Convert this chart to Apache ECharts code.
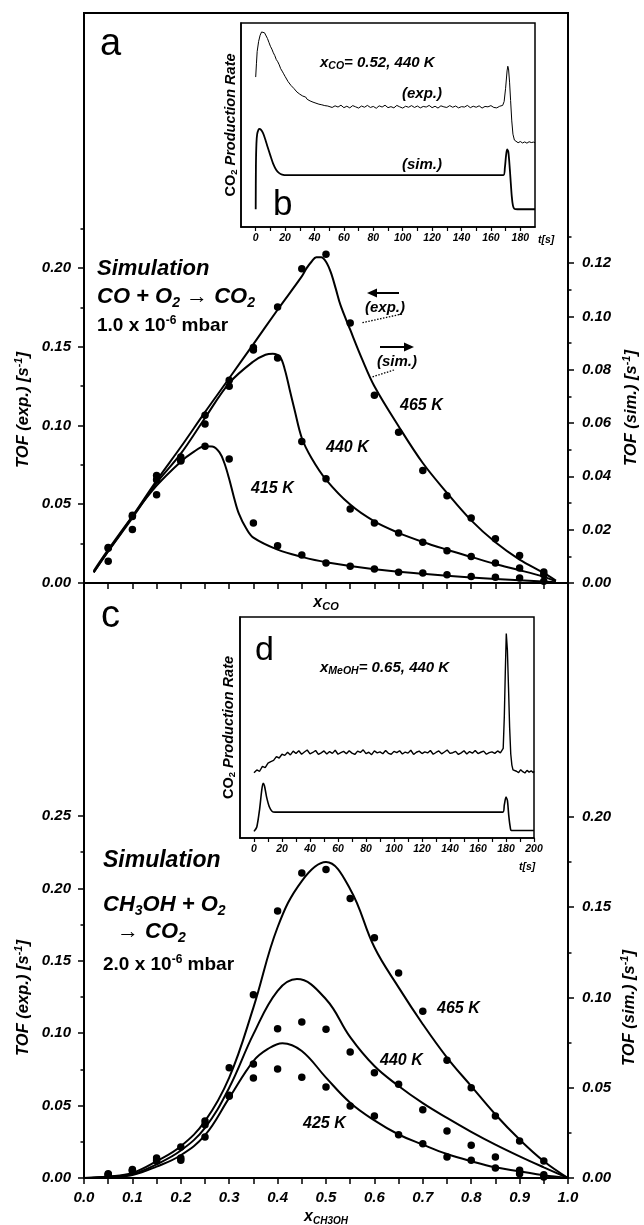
<!DOCTYPE html>
<html><head><meta charset="utf-8">
<script src="https://cdn.jsdelivr.net/npm/echarts@6/dist/echarts.min.js"></script>
<style>html,body{margin:0;padding:0;background:#fff}#c{width:644px;height:1225px}</style>
</head><body><div id="c"></div>
<script>
// ---------- Panel a : CO + O2 (dots = exp., left axis; curves = sim., right axis)
const aX = [0.05,0.10,0.15,0.20,0.25,0.30,0.35,0.40,0.45,0.50,0.55,0.60,0.65,0.70,0.75,0.80,0.85,0.90,0.95];
const a465Exp = [0.0226,0.043,0.0683,0.080,0.1065,0.1287,0.1496,0.1752,0.1996,0.2087,0.1651,0.1192,0.0957,0.0715,0.0554,0.0413,0.0281,0.0174,0.007];
const a440Exp = [0.022,0.0423,0.0656,0.0779,0.101,0.1249,0.148,0.1429,0.0899,0.0662,0.047,0.0381,0.0317,0.0258,0.0205,0.0169,0.0127,0.0095,0.0053];
const a415Exp = [0.0138,0.0339,0.0561,0.0775,0.0868,0.0787,0.0381,0.0237,0.0178,0.0127,0.0106,0.0089,0.0068,0.0063,0.0053,0.0042,0.0036,0.0032,0.0011];
const a465SimX = [0.02,0.05,0.1,0.15,0.2,0.25,0.3,0.35,0.4,0.45,0.46,0.47,0.48,0.49,0.5,0.51,0.52,0.53,0.55,0.575,0.6,0.65,0.7,0.75,0.8,0.85,0.9,0.95,0.975];
const a465SimY = [0.0040,0.0119,0.025,0.0384,0.051,0.0641,0.0768,0.0896,0.1025,0.115,0.1181,0.1205,0.1222,0.1222,0.1205,0.1165,0.1105,0.1042,0.095,0.0838,0.0738,0.0588,0.045,0.0338,0.0235,0.0153,0.0088,0.0038,0.0009];
const a440SimX = [0.02,0.05,0.1,0.15,0.2,0.25,0.3,0.35,0.375,0.39,0.405,0.415,0.425,0.435,0.45,0.47,0.5,0.55,0.6,0.65,0.7,0.75,0.8,0.85,0.9,0.95,0.975];
const a440SimY = [0.0040,0.0119,0.0244,0.0375,0.0485,0.0619,0.075,0.0831,0.0856,0.086,0.0848,0.08,0.0725,0.065,0.0544,0.0469,0.0388,0.0294,0.0231,0.0188,0.0154,0.0125,0.0098,0.0071,0.0048,0.0023,0.0006];
const a415SimX = [0.02,0.05,0.1,0.15,0.2,0.225,0.25,0.265,0.28,0.29,0.3,0.31,0.32,0.335,0.35,0.4,0.45,0.5,0.6,0.7,0.8,0.9,0.975];
const a415SimY = [0.0045,0.0125,0.025,0.0365,0.0455,0.049,0.0513,0.0512,0.049,0.045,0.039,0.032,0.026,0.0205,0.017,0.0125,0.0098,0.0078,0.0052,0.0035,0.0021,0.001,0.0003];

// ---------- Panel c : CH3OH + O2
const cX = [0.05,0.10,0.15,0.20,0.25,0.30,0.35,0.40,0.45,0.50,0.55,0.60,0.65,0.70,0.75,0.80,0.85,0.90,0.95];
const c465Exp = [0.003,0.0058,0.0138,0.0214,0.0394,0.0762,0.1266,0.1844,0.2106,0.213,0.193,0.166,0.1416,0.1151,0.0813,0.0624,0.0428,0.0256,0.0117];
const c440Exp = [0.0025,0.0052,0.0125,0.0138,0.0368,0.0571,0.0787,0.1031,0.1077,0.1027,0.087,0.0727,0.0647,0.0472,0.0325,0.0226,0.0145,0.0053,0.0023];
const c425Exp = [0.002,0.0048,0.0117,0.0122,0.0283,0.0564,0.0691,0.0753,0.0695,0.0628,0.0497,0.0428,0.0299,0.0237,0.0145,0.0122,0.0069,0.003,0.0007];
const c465SimX = [0,0.05,0.1,0.15,0.2,0.25,0.3,0.35,0.4,0.45,0.5,0.55,0.6,0.65,0.7,0.75,0.8,0.85,0.9,0.95,1.0];
const c465SimY = [0,0.0008,0.0028,0.0093,0.0176,0.0315,0.0556,0.0944,0.1389,0.1645,0.175,0.16,0.1278,0.1056,0.0852,0.0667,0.0509,0.0352,0.0213,0.0093,0];
const c440SimX = [0,0.05,0.1,0.15,0.2,0.25,0.3,0.35,0.4,0.44,0.5,0.55,0.6,0.65,0.7,0.75,0.8,0.85,0.9,0.95,1.0];
const c440SimY = [0,0.0006,0.0022,0.0076,0.0152,0.0278,0.05,0.0797,0.1037,0.1102,0.099,0.078,0.062,0.051,0.0415,0.0333,0.0256,0.0185,0.012,0.0059,0];
const c425SimX = [0,0.05,0.1,0.15,0.2,0.25,0.3,0.35,0.38,0.41,0.45,0.5,0.55,0.6,0.65,0.7,0.75,0.8,0.85,0.9,0.95,1.0];
const c425SimY = [0,0.0005,0.0017,0.0063,0.0126,0.0237,0.0444,0.0648,0.0715,0.0747,0.0704,0.0556,0.0417,0.0319,0.0241,0.0185,0.0133,0.0093,0.0059,0.0037,0.0015,0];

// ---------- Inset b : transient, x_CO = 0.52, 440 K  ([t(s), rate a.u.])
const bExp = [[0,73.5],[0.5,80],[1,86],[2,91],[3,94],[4,95.6],[5,96],[6,95.2],[7,94.4],[8,92.4],[9,90.5],[10,88.6],[11,87.2],[12,85.4],[13,84],[14,82.1],[15,81],[16,79.5],[17,77.6],[18,76.4],[19,75.1],[20,73.8],[21,72.9],[22,71.3],[23,70.6],[24,69.4],[25,69.1],[26,67.9],[27,67.6],[28,66.2],[29,66.4],[30,65.1],[31,64.9],[32,64.2],[33,63.4],[34,63.7],[35,62.6],[36,62.9],[37,61.8],[38,62.2],[39,61.2],[40,61.6],[41,60.7],[42,61.1],[43,60.2],[44,60.8],[45,59.9],[46,60.4],[47,59.5],[48,60.1],[49,59.3],[50,59.8],
[52,58.6],[54,59.4],[56,58.8],[58,59.7],[60,58.5],[62,59.2],[64,58.4],[66,59.5],[68,58.9],[70,58.3],
[72,59.3],[74,58.7],[76,59.6],[78,58.6],[80,59.1],[82,58.2],[84,59.4],[86,58.8],[88,59.7],[90,58.5],
[92,59.0],[94,58.4],[96,59.6],[98,58.9],[100,58.3],[102,59.2],[104,58.7],[106,59.5],[108,58.6],[110,59.3],
[112,58.4],[114,59.1],[116,58.8],[118,59.6],[120,58.5],[122,59.2],[124,58.3],[126,59.4],[128,58.9],[130,58.6],
[132,59.5],[134,58.7],[136,59.3],[138,58.4],[140,59.0],[142,58.8],[144,59.6],[146,58.5],[148,59.2],[150,58.7],
[152,59.4],[154,58.3],[156,59.1],[158,58.9],[160,59.5],[162,58.6],[164,58.4],[166,59.2],
[167,59.0],[168,59.6],[169,61.5],[170,68],[171,76.5],[171.5,78.8],[172,77.5],[172.7,71],[173.4,62],[174.2,52],[175,45.5],[176,42.6],[177,41.8],[178.5,41.3],[180,41.9],[181.5,41.2],[183,41.7],[184.5,41.1],[186,41.8],[187.5,41.4],[189,41.6],[190,41.3]];
const bSim = [[0,8.7],[0.15,30],[0.5,41],[1,45.5],[2,47.8],[2.6,48.1],[3.5,47.7],[5,46],[6.5,43],[8,39.5],[10,35],[12,30.8],[14,27.9],[16,26.4],[18,25.7],[21,25.4],[168.5,25.4],[169.5,29],[170.3,35],[171,38],[171.8,37],[172.5,32],[173.3,24],[174.2,15],[175,10.5],[176,8.9],[178,8.7],[190,8.7]];

// ---------- Inset d : transient, x_MeOH = 0.65, 440 K
const dExp = [[0,29.5],[2,30.8],[4,30.2],[6,32.4],[8,31.8],[10,33.9],[12,34.6],[14,35.1],[16,36.8],[18,36.2],[20,37.9],[22,37.4],[24,38.8],[26,37.6],[28,39.3],
[30,38.2],[32,39.5],[34,37.9],[36,38.9],[38,39.8],[40,38.1],[42,38.7],[44,39.6],[46,37.8],[48,38.5],
[50,39.4],[52,38.0],[54,39.1],[56,38.3],[58,39.7],[60,37.9],[62,38.6],[64,39.2],[66,38.1],[68,39.5],
[70,38.4],[72,37.8],[74,39.3],[76,38.7],[78,39.9],[80,38.2],[82,38.8],[84,37.7],[86,39.4],[88,38.5],
[90,39.0],[92,38.1],[94,39.6],[96,38.3],[98,37.9],[100,39.2],[102,38.6],[104,39.5],[106,38.0],[108,38.9],
[110,38.4],[112,39.7],[114,37.8],[116,38.8],[118,39.3],[120,38.2],[122,39.0],[124,38.5],[126,39.6],[128,37.9],
[130,38.7],[132,39.4],[134,38.1],[136,38.9],[138,39.8],[140,38.3],[142,38.6],[144,39.2],[146,37.8],[148,38.5],
[150,39.5],[152,38.0],[154,39.1],[156,38.4],[158,39.6],[160,38.2],[162,38.8],[164,39.3],[166,37.9],[168,38.6],
[170,39.0],[172,38.3],[174,39.4],[176,38.5],
[177,38.9],[178,40.5],[178.8,55],[179.5,75],[180.2,92.5],[181,85],[181.8,68],[182.6,50],[183.4,38],[184.2,33],[185,30.8],[186,31.5],[187.5,30.2],[189,29.6],[190.5,30.9],[192,30.0],[193.5,29.4],[195,30.6],[196.5,29.8],[198,30.4],[199.5,29.5],[200,30.2]];
const dSim = [[0,3],[2,5],[4,13],[5.5,21.5],[6.5,24.8],[7.5,23.5],[9,18.5],[11,14],[13,12],[15,11.7],[177.8,11.7],[178.8,15],[180,18.5],[181,17],[182,10],[183,5],[183.8,3.4],[200,3.4]];

// ---------- tick / label values
const aLeftMajor = [0,0.05,0.10,0.15,0.20];
const aLeftMinor = [0.025,0.075,0.125,0.175,0.225];
const aRightMajor = [0,0.02,0.04,0.06,0.08,0.10,0.12];
const aRightMinor = [0.01,0.03,0.05,0.07,0.09,0.11,0.13];
const cLeftMajor = [0,0.05,0.10,0.15,0.20,0.25];
const cLeftMinor = [0.025,0.075,0.125,0.175,0.225];
const cRightMajor = [0,0.05,0.10,0.15,0.20];
const cRightMinor = [0.025,0.075,0.125,0.175];
const bTicks = [0,10,20,30,40,50,60,70,80,90,100,110,120,130,140,150,160,170,180];
const bLabels = [0,20,40,60,80,100,120,140,160,180];
const dTicks = [0,10,20,30,40,50,60,70,80,90,100,110,120,130,140,150,160,170,180,190,200];
const dLabels = [0,20,40,60,80,100,120,140,160,180,200];

// ---------- helpers
const FF = '"Liberation Sans", Arial, Helvetica, sans-serif';
const zip = (xs, ys) => xs.map((x, i) => [x, ys[i]]);
function ec(size, o) { return Object.assign({fontFamily: FF, fontSize: size, fontWeight: 'bold', fontStyle: 'italic', color: '#000'}, o || {}); }
function zr(size, o) { return Object.assign({fontFamily: FF, fontSize: size, fontWeight: 'bold', fontStyle: 'italic', fill: '#000'}, o || {}); }
const BLK = '#000';
const lblStyle = ec(15);

function yMain(grid, pos, max, majors) {
  return {gridIndex: grid, type: 'value', position: pos, min: 0, max: max,
    axisLine: {show: true, onZero: false, lineStyle: {color: BLK, width: 2}},
    axisTick: {show: true, length: 6, customValues: majors, lineStyle: {color: BLK, width: 1.5}},
    axisLabel: Object.assign({show: true, customValues: majors, margin: pos === 'left' ? 13 : 14, formatter: v => v.toFixed(2)}, lblStyle),
    splitLine: {show: false}
  };
}
function yMinor(grid, pos, max, minors) {
  return {gridIndex: grid, type: 'value', position: pos, min: 0, max: max,
    axisLine: {show: false, onZero: false}, axisLabel: {show: false}, splitLine: {show: false},
    axisTick: {show: true, length: 3.5, customValues: minors, lineStyle: {color: BLK, width: 1.5}}};
}
function yInset(grid, gap) {
  return {gridIndex: grid, type: 'value', min: 0, max: 100,
    axisLine: {show: true, onZero: false, lineStyle: {color: BLK, width: 1.5}}, axisTick: {show: false}, axisLabel: {show: false}, splitLine: {show: false},
    name: '{c|CO}{s|2}{t| Production Rate}', nameLocation: 'middle', nameGap: gap,
    nameTextStyle: {rich: {c: ec(14.5, {fontStyle: 'normal', lineHeight: 17}), s: ec(9.5, {fontStyle: 'normal', verticalAlign: 'bottom', lineHeight: 10}), t: ec(14.5, {lineHeight: 17})}}};
}
function xInset(grid, max, ticks, labels) {
  return {gridIndex: grid, type: 'value', min: -10, max: max,
    axisLine: {show: true, onZero: false, lineStyle: {color: BLK, width: 1.5}},
    axisTick: {show: true, length: 4, customValues: ticks, lineStyle: {color: BLK, width: 1.2}},
    axisLabel: Object.assign({show: true, customValues: labels, margin: 6}, ec(10.5)),
    splitLine: {show: false}};
}
function dots(xi, yi, xs, ys) {
  return {type: 'scatter', xAxisIndex: xi, yAxisIndex: yi, data: zip(xs, ys), symbol: 'circle', symbolSize: 7.5, itemStyle: {color: BLK, opacity: 1}, z: 5};
}
function curve(xi, yi, data, w, smooth) {
  return {type: 'line', xAxisIndex: xi, yAxisIndex: yi, data: data, showSymbol: false, symbol: 'none',
    smooth: smooth, lineStyle: {color: BLK, width: w, opacity: 1}, z: 4, clip: true};
}
function T(x, y, text, rich, o) {
  return {type: 'text', x: x, y: y, z: 100, style: Object.assign({text: text, rich: rich, align: 'left', verticalAlign: 'middle', fill: BLK}, o || {})};
}
function P(x, y, text, size, o) {
  return {type: 'text', x: x, y: y, z: 100, style: Object.assign(zr(size, {text: text, align: 'left', verticalAlign: 'middle'}), o || {})};
}
const richSub22 = {t: zr(22, {lineHeight: 26}), s: zr(14, {verticalAlign: 'bottom', lineHeight: 14})};
const richSup19 = {t: zr(19, {fontStyle: 'normal', lineHeight: 22}), u: zr(12, {fontStyle: 'normal', verticalAlign: 'top', lineHeight: 12})};
const richTitle = {t: zr(15, {lineHeight: 17}), s: zr(10.5, {verticalAlign: 'bottom', lineHeight: 10})};
const richTOF = {t: zr(16.5, {lineHeight: 20}), u: zr(11, {verticalAlign: 'top', lineHeight: 11})};
function yTitle(x, y, text) {
  return {type: 'text', x: x, y: y, rotation: Math.PI / 2, z: 100,
    style: {text: text, rich: richTOF, align: 'center', verticalAlign: 'middle', fill: BLK}};
}

const gridBase = {show: true, borderColor: BLK, borderWidth: 2, backgroundColor: 'transparent', containLabel: false, outerBoundsMode: 'none'};

const option = {
  animation: false,
  backgroundColor: '#fff',
  grid: [
    Object.assign({left: 84, top: 13, width: 484, height: 570}, gridBase),
    Object.assign({left: 84, top: 583, width: 484, height: 595}, gridBase),
    Object.assign({left: 241, top: 23, width: 294, height: 204}, gridBase, {borderWidth: 1.5}),
    Object.assign({left: 240, top: 617, width: 294, height: 221}, gridBase, {borderWidth: 1.5})
  ],
  xAxis: [
    {gridIndex: 0, type: 'value', min: 0, max: 1, interval: 0.1,
     axisLine: {show: true, onZero: false, lineStyle: {color: BLK, width: 2}},
     axisTick: {show: true, length: 6, lineStyle: {color: BLK, width: 1.5}},
     minorTick: {show: true, splitNumber: 2, length: 6, lineStyle: {color: BLK, width: 1.5}},
     axisLabel: {show: false}, splitLine: {show: false}, minorSplitLine: {show: false},
     name: '{x|x}{s|CO}', nameLocation: 'middle', nameGap: 11,
     nameTextStyle: {rich: {x: ec(16, {lineHeight: 18}), s: ec(11, {verticalAlign: 'bottom', lineHeight: 11})}}},
    {gridIndex: 1, type: 'value', min: 0, max: 1, interval: 0.1,
     axisLine: {show: true, onZero: false, lineStyle: {color: BLK, width: 2}},
     axisTick: {show: true, length: 6, lineStyle: {color: BLK, width: 1.5}},
     minorTick: {show: true, splitNumber: 2, length: 6, lineStyle: {color: BLK, width: 1.5}},
     axisLabel: Object.assign({show: true, margin: 12, formatter: v => v.toFixed(1)}, lblStyle),
     splitLine: {show: false}, minorSplitLine: {show: false},
     name: '{x|x}{s|CH3OH}', nameLocation: 'middle', nameGap: 30,
     nameTextStyle: {rich: {x: ec(16, {lineHeight: 18}), s: ec(10, {verticalAlign: 'bottom', lineHeight: 10})}}},
    xInset(2, 190, bTicks, bLabels),
    xInset(3, 200, dTicks, dLabels)
  ],
  yAxis: [
    yMain(0, 'left', 0.3619, aLeftMajor),
    yMinor(0, 'left', 0.3619, aLeftMinor),
    yMain(0, 'right', 0.2138, aRightMajor),
    yMinor(0, 'right', 0.2138, aRightMinor),
    yMain(1, 'left', 0.4109, cLeftMajor),
    yMinor(1, 'left', 0.4109, cLeftMinor),
    yMain(1, 'right', 0.3296, cRightMajor),
    yMinor(1, 'right', 0.3296, cRightMinor),
    yInset(2, 2),
    yInset(3, 3)
  ],
  series: [
    dots(0, 0, aX, a465Exp), dots(0, 0, aX, a440Exp), dots(0, 0, aX, a415Exp),
    curve(0, 2, zip(a465SimX, a465SimY), 2, 0.35),
    curve(0, 2, zip(a440SimX, a440SimY), 2, 0.35),
    curve(0, 2, zip(a415SimX, a415SimY), 2, 0.35),
    dots(1, 4, cX, c465Exp), dots(1, 4, cX, c440Exp), dots(1, 4, cX, c425Exp),
    curve(1, 6, zip(c465SimX, c465SimY), 2, 0.4),
    curve(1, 6, zip(c440SimX, c440SimY), 2, 0.4),
    curve(1, 6, zip(c425SimX, c425SimY), 2, 0.4),
    curve(2, 8, bExp, 1, false),
    curve(2, 8, bSim, 1.8, 0.25),
    curve(3, 9, dExp, 1.4, false),
    curve(3, 9, dSim, 1.6, 0.25)
  ],
  graphic: [
    yTitle(23, 410, '{t|TOF (exp.) [s}{u|-1}{t|]}'),
    yTitle(631, 408, '{t|TOF (sim.) [s}{u|-1}{t|]}'),
    yTitle(23, 998, '{t|TOF (exp.) [s}{u|-1}{t|]}'),
    yTitle(629, 1008, '{t|TOF (sim.) [s}{u|-1}{t|]}'),
    P(100, 45, 'a', 38, {fontWeight: 'normal', fontStyle: 'normal'}),
    P(273, 205, 'b', 35, {fontWeight: 'normal', fontStyle: 'normal'}),
    P(101, 617, 'c', 38, {fontWeight: 'normal', fontStyle: 'normal'}),
    P(255, 651, 'd', 34, {fontWeight: 'normal', fontStyle: 'normal'}),
    // panel a text
    P(97, 269, 'Simulation', 22),
    T(97, 297, '{t|CO + O}{s|2}{t| \u2192 CO}{s|2}', richSub22),
    T(97, 326, '{t|1.0 x 10}{u|-6}{t| mbar}', richSup19),
    P(400, 406, '465 K', 16),
    P(326, 448, '440 K', 16),
    P(251, 489, '415 K', 16),
    P(365, 308, '(exp.)', 15),
    P(377, 362, '(sim.)', 15),
    {type: 'line', z: 100, shape: {x1: 374, y1: 293, x2: 399, y2: 293}, style: {stroke: BLK, lineWidth: 2}},
    {type: 'polygon', z: 100, shape: {points: [[367, 293], [377, 288.5], [377, 297.5]]}, style: {fill: BLK}},
    {type: 'line', z: 100, shape: {x1: 380, y1: 347, x2: 406, y2: 347}, style: {stroke: BLK, lineWidth: 2}},
    {type: 'polygon', z: 100, shape: {points: [[414, 347], [404, 342.5], [404, 351.5]]}, style: {fill: BLK}},
    {type: 'line', z: 100, shape: {x1: 402, y1: 314, x2: 361, y2: 323}, style: {stroke: BLK, lineWidth: 1.3, lineDash: [1.5, 1.5]}},
    {type: 'line', z: 100, shape: {x1: 394, y1: 370, x2: 372, y2: 377}, style: {stroke: BLK, lineWidth: 1.3, lineDash: [1.5, 1.5]}},
    // inset b text
    T(320, 63, '{t|x}{s|CO}{t|= 0.52, 440 K}', richTitle),
    P(402, 94, '(exp.)', 15),
    P(402, 165, '(sim.)', 15),
    P(538, 240, 't[s]', 10.5),
    // panel c text
    P(103, 861, 'Simulation', 23),
    T(103, 905, '{t|CH}{s|3}{t|OH + O}{s|2}', richSub22),
    T(117, 932, '{t|\u2192 CO}{s|2}', richSub22),
    T(103, 965, '{t|2.0 x 10}{u|-6}{t| mbar}', richSup19),
    P(437, 1009, '465 K', 16),
    P(380, 1061, '440 K', 16),
    P(303, 1124, '425 K', 16),
    // inset d text
    T(320, 668, '{t|x}{s|MeOH}{t|= 0.65, 440 K}', richTitle),
    P(519, 867, 't[s]', 10.5)
  ]
};
const chart = echarts.init(document.getElementById('c'), null, {renderer: 'canvas'});
chart.setOption(option);
</script>
</body></html>
